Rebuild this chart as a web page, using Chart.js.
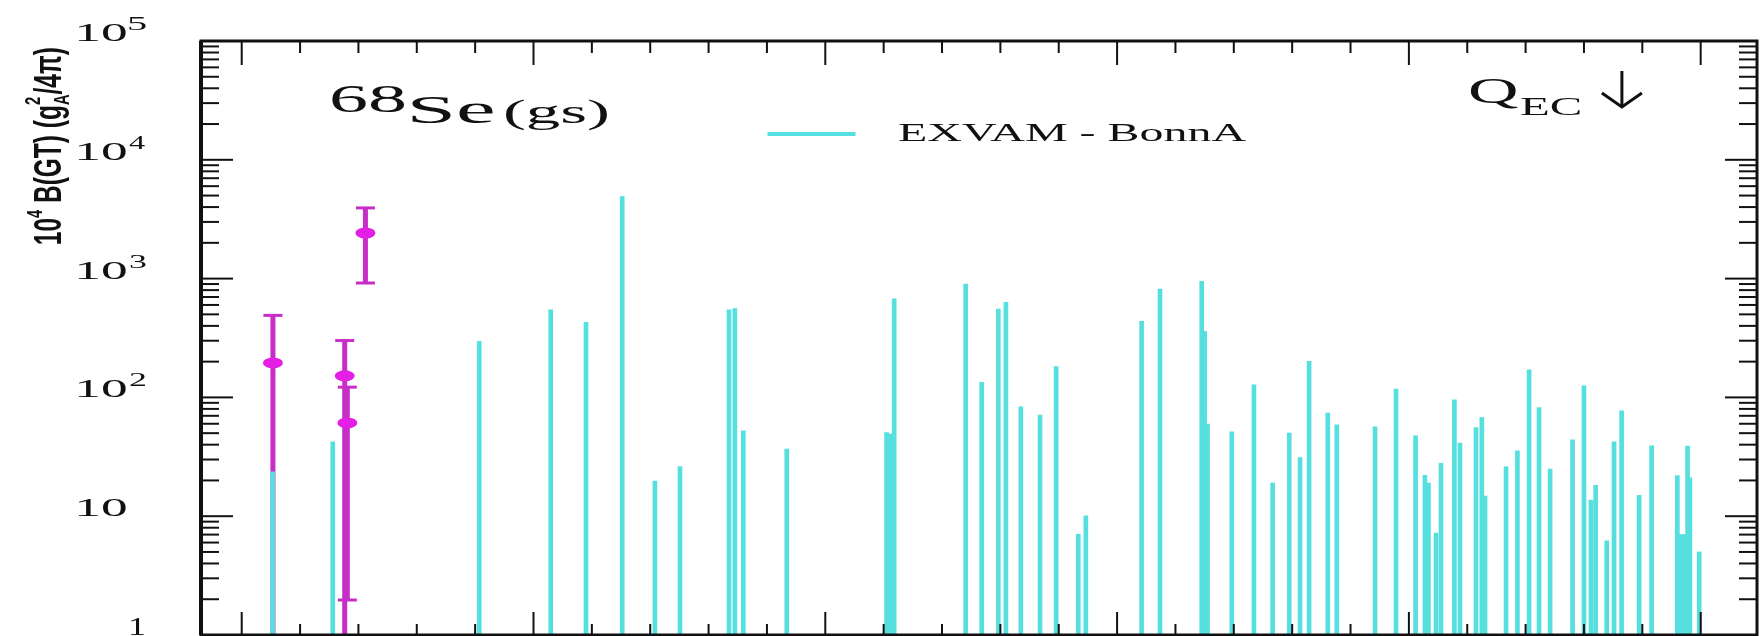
<!DOCTYPE html>
<html lang="en">
<head>
<meta charset="UTF-8">
<title>68Se B(GT) distribution</title>
<script src="https://cdn.jsdelivr.net/npm/chart.js@4.4.1/dist/chart.umd.min.js"></script>
<style>
  body { margin: 0; background: #fff; }
  canvas { display: block; }
</style>
</head>
<body>
<canvas id="chart" width="1762" height="636"></canvas>
<script>
// EXVAM - BonnA: excitation energy (MeV) and 10^4 B(GT)
const bonnEnergy = [0.106, 0.312, 0.814, 1.059, 1.180, 1.304, 1.416, 1.502, 1.670, 1.690,
  1.719, 1.868, 2.210, 2.222, 2.236, 2.481, 2.536, 2.593, 2.619, 2.670,
  2.736, 2.791, 2.867, 2.893, 3.084, 3.147, 3.290, 3.300, 3.310, 3.393,
  3.469, 3.533, 3.590, 3.627, 3.658, 3.722, 3.753, 3.884, 3.956, 4.023,
  4.055, 4.067, 4.093, 4.110, 4.156, 4.175, 4.230, 4.250, 4.261, 4.333,
  4.372, 4.412, 4.446, 4.484, 4.561, 4.600, 4.624, 4.640, 4.678, 4.703,
  4.729, 4.789, 4.832, 4.920, 4.932, 4.942, 4.955, 4.963, 4.995];
const bonnBGT = [23.6, 42.3, 296, 547, 428, 4900, 19.8, 26.2, 545, 560,
  52.3, 36.7, 50.6, 49, 677, 900, 134, 555, 630, 83.4,
  71, 182, 7.05, 10.06, 436, 817, 950, 359, 59.6, 51.3,
  127.7, 19, 50, 31.2, 201, 73.8, 58.8, 56.5, 117.5, 47.5,
  22.1, 19, 7.2, 27.9, 95.4, 41.2, 55.8, 67.7, 14.8, 26,
  35.5, 171, 82, 24.9, 44, 125, 13.7, 18.2, 6.2, 42.3,
  77.1, 15, 39.1, 22, 7, 7, 39, 21, 5];

// experiment, with error bars (low end below 1 runs off the plot)
const expEnergy = [0.107, 0.353, 0.362, 0.424];
const expBGT = [195, 152, 61, 2420];
const expHigh = [490, 301, 122, 3935];
const expLow = [0.5, 0.5, 1.97, 918];

const qecEnergy = 4.73;

const xMajorTicks = [0, 1, 2, 3, 4, 5];
const yMajorTicks = [1, 10, 100, 1000, 10000, 100000];
const yTickBase = ['1', '10', '10', '10', '10', '10'];
const yTickExp = ['', '', '2', '3', '4', '5'];

const cyan = '#55dfdf';
const ink = '#111';

function fitText(ctx, text, font, inkL, inkR, baseY) {
  ctx.save();
  ctx.font = font;
  ctx.textAlign = 'left';
  ctx.textBaseline = 'alphabetic';
  const m = ctx.measureText(text);
  const w = m.actualBoundingBoxLeft + m.actualBoundingBoxRight;
  const sx = (inkR - inkL) / w;
  ctx.translate(inkL + m.actualBoundingBoxLeft * sx, baseY);
  ctx.scale(sx, 1);
  ctx.fillText(text, 0, 0);
  ctx.restore();
}

function line(ctx, x1, y1, x2, y2) {
  ctx.beginPath();
  ctx.moveTo(x1, y1);
  ctx.lineTo(x2, y2);
  ctx.stroke();
}

// rotated y title, fitted between two screen y values (ink), baseline at screen x
function drawYTitle(ctx, parts, baseX, yStart, yEnd, thick) {
  ctx.save();
  ctx.textAlign = 'left';
  ctx.textBaseline = 'alphabetic';
  let total = 0;
  let lead = 0;
  let trail = 0;
  parts.forEach((p, i) => {
    ctx.font = 'bold ' + p.s + 'px "Liberation Sans"';
    const m = ctx.measureText(p.t);
    p.w = m.width;
    if (i === 0) lead = -m.actualBoundingBoxLeft;
    if (i === parts.length - 1) trail = m.width - m.actualBoundingBoxRight;
    if (!p.stack) total += p.w;
  });
  const inkLen = total - lead - trail;
  const s = (yStart - yEnd) / inkLen;
  ctx.translate(baseX, yStart);
  ctx.rotate(-Math.PI / 2);
  ctx.scale(s, thick);
  let cx = -lead;
  parts.forEach(p => {
    ctx.font = 'bold ' + p.s + 'px "Liberation Sans"';
    ctx.fillText(p.t, cx, p.dy);
    if (!p.stack) cx += p.w;
  });
  ctx.restore();
}

const rootStyle = {
  id: 'rootStyle',
  beforeDatasetsDraw(chart) {
    const { ctx, chartArea: a, scales: { x, y } } = chart;
    ctx.save();
    ctx.beginPath();
    ctx.rect(a.left, a.top, a.right - a.left, a.bottom - a.top);
    ctx.clip();
    expEnergy.forEach((e, i) => {
      const px = x.getPixelForValue(e);
      const hi = y.getPixelForValue(expHigh[i]);
      const lo = y.getPixelForValue(expLow[i]);
      ctx.strokeStyle = '#c72ec7';
      ctx.lineWidth = 5;
      line(ctx, px, hi, px, lo);
      ctx.lineWidth = 3;
      line(ctx, px - 9.5, hi, px + 9.5, hi);
      line(ctx, px - 9.5, lo, px + 9.5, lo);
      ctx.fillStyle = '#e41ee4';
      ctx.beginPath();
      ctx.ellipse(px, y.getPixelForValue(expBGT[i]), 10, 5.5, 0, 0, Math.PI * 2);
      ctx.fill();
    });
    ctx.restore();
  },
  afterDraw(chart) {
    const { ctx, chartArea: a, scales: { x, y } } = chart;
    ctx.save();
    ctx.strokeStyle = ink;
    ctx.fillStyle = ink;

    // frame
    ctx.lineWidth = 3;
    ctx.strokeRect(a.left, a.top, a.right - a.left, a.bottom - a.top);
    ctx.lineWidth = 4;
    line(ctx, a.left, a.top, a.left, a.bottom);

    // x ticks, pointing inwards
    ctx.lineWidth = 2;
    for (let k = 0; k <= 25; k++) {
      const e = k * 0.2;
      const px = x.getPixelForValue(e);
      const major = xMajorTicks.includes(Math.round(e * 10) / 10);
      line(ctx, px, a.bottom, px, a.bottom - (major ? 23 : 11));
      line(ctx, px, a.top, px, a.top + (major ? 24 : 12));
    }
    // y ticks
    yMajorTicks.forEach((v, i) => {
      const py = y.getPixelForValue(v);
      line(ctx, a.left, py, a.left + 32, py);
      line(ctx, a.right, py, a.right - 32, py);
      if (i < yMajorTicks.length - 1) {
        for (let m = 2; m <= 9; m++) {
          const pm = y.getPixelForValue(v * m);
          line(ctx, a.left, pm, a.left + 18, pm);
          line(ctx, a.right, pm, a.right - 18, pm);
        }
      }
    });

    // y tick labels
    yMajorTicks.forEach((v, i) => {
      const py = y.getPixelForValue(v);
      if (yTickBase[i] === '1') {
        fitText(ctx, '1', '25px "Liberation Serif"', 131, 144, py);
      } else {
        fitText(ctx, '10', '25px "Liberation Serif"', 78.5, 126.5, py);
        if (yTickExp[i]) fitText(ctx, yTickExp[i], '19px "Liberation Serif"', 129, 146, py - 11);
      }
    });

    // y title
    const F = 20;
    drawYTitle(ctx, [
      { t: '10', s: F, dy: 0 },
      { t: '4', s: 0.6 * F, dy: -0.5 * F },
      { t: ' B(GT) (g', s: F, dy: 0 },
      { t: '2', s: 0.6 * F, dy: -0.55 * F, stack: true },
      { t: 'A', s: 0.6 * F, dy: 0.2 * F },
      { t: '/4\u03c0)', s: F, dy: 0 }
    ], 61, 244, 48, 1.9);

    // nucleus label
    fitText(ctx, '68', '39px "Liberation Serif"', 331, 406, 111.7);
    fitText(ctx, 'Se', '40px "Liberation Serif"', 411, 494, 123.3);
    fitText(ctx, '(gs)', '33px "Liberation Serif"', 505, 608, 122.5);

    // legend
    ctx.strokeStyle = cyan;
    ctx.lineWidth = 4;
    line(ctx, 767.5, 134, 855.5, 134);
    fitText(ctx, chart.data.datasets[0].label, '25px "Liberation Serif"', 898, 1246, 140.7);

    // Q_EC marker
    fitText(ctx, 'Q', '35px "Liberation Serif"', 1470, 1518, 103.3);
    fitText(ctx, 'EC', '25px "Liberation Serif"', 1520, 1581, 115);
    const qx = x.getPixelForValue(qecEnergy);
    ctx.strokeStyle = ink;
    ctx.lineWidth = 3;
    line(ctx, qx, 71, qx, 107);
    ctx.beginPath();
    ctx.moveTo(qx - 20, 93);
    ctx.lineTo(qx, 107);
    ctx.lineTo(qx + 20, 93);
    ctx.stroke();
    ctx.restore();
  }
};

const ctx = document.getElementById('chart').getContext('2d');
const chart = new Chart(ctx, {
  type: 'bar',
  data: {
    datasets: [{
      label: 'EXVAM - BonnA',
      data: bonnEnergy.map((e, i) => ({ x: e, y: bonnBGT[i] })),
      backgroundColor: cyan,
      barThickness: 4,
      base: 1
    }]
  },
  options: {
    responsive: false,
    animation: false,
    devicePixelRatio: 1,
    layout: { padding: { left: 201, top: 41, right: 5, bottom: 1 } },
    plugins: { legend: { display: false }, tooltip: { enabled: false } },
    scales: {
      x: { type: 'linear', min: -0.1395, max: 5.193, offset: false, display: false },
      y: { type: 'logarithmic', min: 1, max: 100000, display: false }
    }
  },
  plugins: [rootStyle]
});
</script>
</body>
</html>
